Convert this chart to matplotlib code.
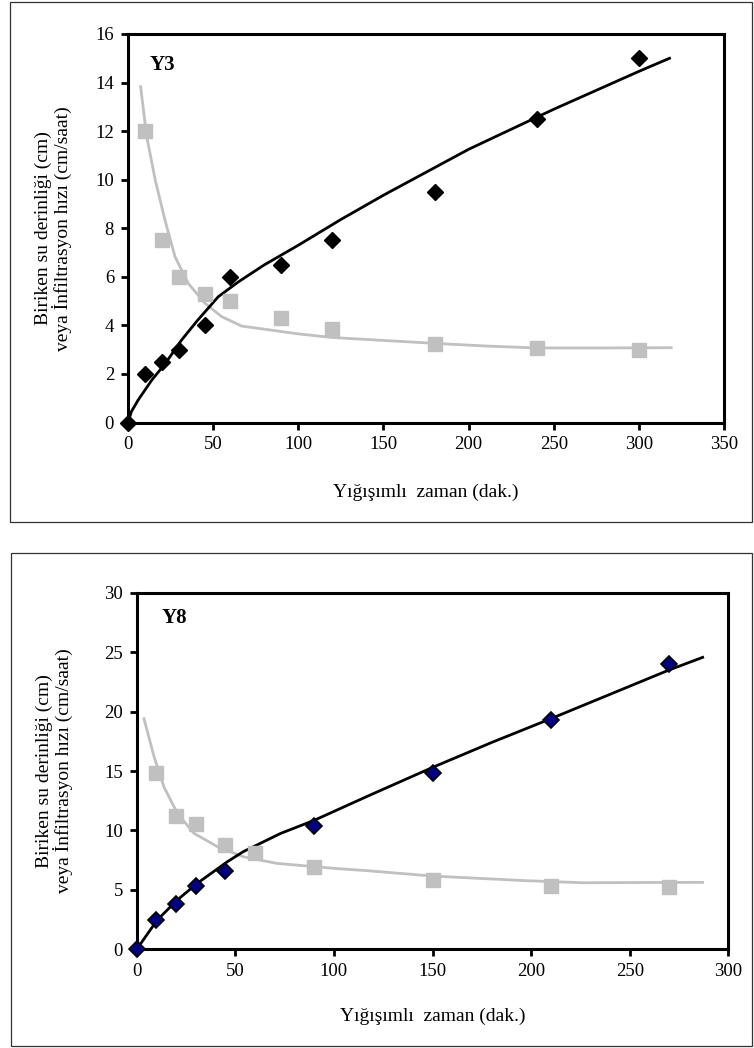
import matplotlib
matplotlib.use("Agg")
import matplotlib.pyplot as plt
from matplotlib.patches import Rectangle

plt.rcParams['font.family'] = ['Liberation Serif', 'DejaVu Serif']

# --- Y3 data ---
y3_t = [0, 10, 20, 30, 45, 60, 90, 120, 180, 240, 300]
y3_depth = [0, 2.0, 2.5, 3.0, 4.0, 6.0, 6.5, 7.5, 9.5, 12.5, 15.0]
y3_rate_t = [10, 20, 30, 45, 60, 90, 120, 180, 240, 300]
y3_rate = [12.0, 7.5, 6.0, 5.3, 5.0, 4.3, 3.85, 3.25, 3.05, 3.0]
# trend lines, points
y3_fit_t = [0, 2, 6, 14, 22, 31.5, 41, 53, 65, 80, 100, 125, 150, 200, 250, 300, 318]
y3_fit_depth = [0, 0.45, 0.93, 1.75, 2.44, 3.4, 4.22, 5.18, 5.8, 6.49, 7.3, 8.36, 9.36,
                11.25, 12.9, 14.46, 15.0]
y3_fit_rt = [7.4, 11, 16, 21.7, 27.6, 35.4, 45.2, 55, 66.8, 80.4, 100, 120, 150, 180, 210,
             240, 280, 319]
y3_fit_rate = [13.83, 11.77, 9.99, 8.34, 6.83, 5.73, 4.91, 4.36, 3.97, 3.84, 3.65, 3.5, 3.38,
               3.26, 3.15, 3.07, 3.07, 3.08]

# --- Y8 data ---
y8_t = [0, 10, 20, 30, 45, 90, 150, 210, 270]
y8_depth = [0, 2.5, 3.8, 5.3, 6.6, 10.4, 14.8, 19.3, 24.0]
y8_rate_t = [10, 20, 30, 45, 60, 90, 150, 210, 270]
y8_rate = [14.8, 11.2, 10.5, 8.8, 8.1, 6.9, 5.85, 5.3, 5.2]
y8_fit_t = [0, 10.4, 20.6, 30.7, 46, 54, 73, 90, 100, 118, 150, 180, 210, 240, 270, 287]
y8_fit_depth = [0, 2.46, 4.15, 5.55, 7.37, 8.21, 9.75, 10.85, 11.6, 12.95, 15.3, 17.4, 19.4,
                21.45, 23.5, 24.56]
y8_fit_rt = [3.7, 8.8, 13.8, 20.6, 29, 41, 54, 71, 100, 118, 150, 198, 226, 260, 287]
y8_fit_rate = [19.4, 16.2, 13.67, 11.44, 9.76, 8.63, 7.79, 7.23, 6.81, 6.6, 6.16, 5.77, 5.6,
               5.62, 5.63]

fig = plt.figure(figsize=(7.54, 10.48), dpi=100)
W, H = 754, 1048

# outer frames around each panel
for (x0, y0, x1, y1) in [(10, 2, 752, 522), (11, 553, 752, 1046)]:
    fig.patches.append(Rectangle((x0 / W, 1 - y1 / H), (x1 - x0) / W, (y1 - y0) / H,
                                 transform=fig.transFigure, fill=False,
                                 edgecolor='#333333', linewidth=0.9))

gray = '#c0c0c0'


def setup(ax, xmax, xstep, ymax, ystep, tag, tag_xy, ylab_x, xlab_y):
    ax.set_xlim(0, xmax)
    ax.set_ylim(0, ymax)
    ax.set_xticks(range(0, xmax + 1, xstep))
    ax.set_yticks(range(0, ymax + 1, ystep))
    for s in ax.spines.values():
        s.set_linewidth(2.2)
    ax.tick_params(direction='out', length=5, width=2, labelsize=13.5, pad=5)
    ax.set_xlabel('Yığışımlı  zaman (dak.)', fontsize=14, va='center')
    ax.xaxis.set_label_coords(0.5, xlab_y)
    ax.set_ylabel('Biriken su derinliği (cm)\nveya İnfiltrasyon hızı (cm/saat)',
                  fontsize=14, va='center', linespacing=1.0)
    ax.yaxis.set_label_coords(ylab_x, 0.5)
    ax.text(tag_xy[0], tag_xy[1], tag, transform=ax.transAxes, fontsize=15,
            fontweight='bold', va='center', ha='left')


ax1 = fig.add_axes([128 / W, 1 - 422.5 / H, 596 / W, 388.5 / H])
ax1.plot(y3_fit_rt, y3_fit_rate, color=gray, lw=2)
ax1.plot(y3_fit_t, y3_fit_depth, color='black', lw=2)
ax1.plot(y3_rate_t, y3_rate, 's', color=gray, ms=10.5, clip_on=False)
ax1.plot(y3_t, y3_depth, 'D', color='black', ms=8, clip_on=False, zorder=5)
setup(ax1, 350, 50, 16, 2, 'Y3', (0.037, 0.92), -0.126, -0.181)

ax2 = fig.add_axes([136.7 / W, 1 - 949.3 / H, 591.6 / W, 356.6 / H])
ax2.plot(y8_fit_rt, y8_fit_rate, color=gray, lw=2)
ax2.plot(y8_fit_t, y8_fit_depth, color='black', lw=2)
ax2.plot(y8_rate_t, y8_rate, 's', color=gray, ms=10.5, clip_on=False)
ax2.plot(y8_t, y8_depth, 'D', color='#000080', mec='black', mew=1.2, ms=8,
         clip_on=False, zorder=5)
setup(ax2, 300, 50, 30, 5, 'Y8', (0.042, 0.929), -0.14, -0.188)

fig.savefig('out.png', dpi=100)
